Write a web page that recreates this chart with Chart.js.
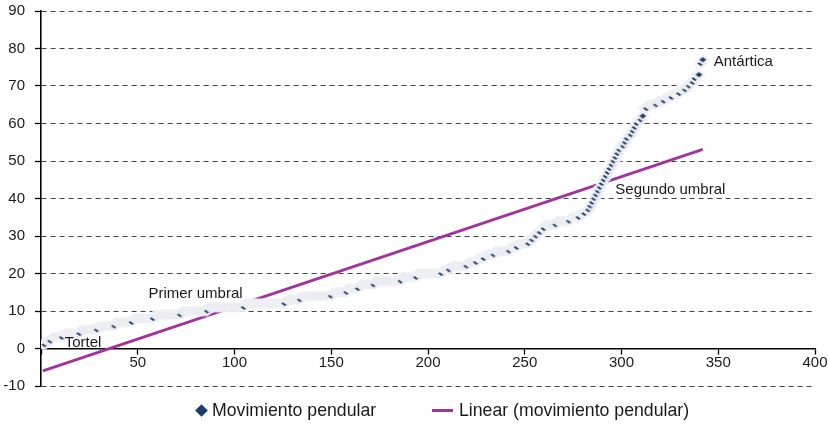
<!DOCTYPE html>
<html>
<head>
<meta charset="utf-8">
<script src="https://cdn.jsdelivr.net/npm/chart.js@4.4.0/dist/chart.umd.min.js"></script>
<style>
  body { margin: 0; background: #fff; }
  #wrap { position: relative; width: 828px; height: 427px; font-family: 'Liberation Sans', Arial, sans-serif; color: #1a1a1a; }
  #wrap canvas { position: absolute; left: 0; top: 0; }
  .lg { position: absolute; font-size: 17.7px; line-height: 20px; white-space: nowrap; }
  .lg-diamond { position: absolute; width: 9px; height: 9px; background: #1e3d6b; transform: rotate(45deg); }
  .lg-line { position: absolute; height: 3px; background: #a2339d; }
</style>
</head>
<body>
<div id="wrap">
  <canvas id="scatterChart" width="828" height="427"></canvas>
  <div class="lg-diamond" style="left:197px; top:406px;"></div>
  <div class="lg" style="left:212px; top:400px;">Movimiento pendular</div>
  <div class="lg-line" style="left:432px; top:409px; width:21px;"></div>
  <div class="lg" style="left:459px; top:400px;">Linear (movimiento pendular)</div>
</div>
<script>
// values, ranked from smallest to largest
const pendular = [
  1, 1, 2, 2, 2, 3, 3, 3, 3, 3, 3,
  4, 4, 4, 4, 4, 4, 4, 4, 4,
  5, 5, 5, 5, 5, 5, 5, 5, 5,
  6, 6, 6, 6, 6, 6, 6, 6, 6,
  7, 7, 7, 7, 7, 7, 7, 7, 7,
  8, 8, 8, 8, 8, 8, 8, 8, 8, 8, 8,
  9, 9, 9, 9, 9, 9, 9, 9, 9, 9, 9, 9, 9, 9,
  10, 10, 10, 10, 10, 10, 10, 10, 10, 10, 10, 10, 10, 10,
  11, 11, 11, 11, 11, 11, 11, 11, 11, 11, 11, 11, 11, 11, 11, 11, 11, 11, 11,
  12, 12, 12, 12, 12, 12, 12, 12, 12, 12, 12, 12, 12, 12, 12, 12, 12, 12, 12, 12, 12,
  13, 13, 13, 13, 13, 13, 13, 13,
  14, 14, 14, 14, 14, 14, 14, 14, 14, 14, 14, 14, 14, 14, 14, 14,
  15, 15, 15, 15, 15, 15, 15, 15,
  16, 16, 16, 16, 16, 16,
  17, 17, 17, 17, 17, 17, 17, 17,
  18, 18, 18, 18, 18, 18, 18, 18, 18, 18, 18, 18, 18, 18,
  19, 19, 19, 19, 19, 19, 19, 19,
  20, 20, 20, 20, 20, 20, 20, 20, 20, 20, 20, 20, 20,
  21, 21, 21, 21,
  22, 22, 22, 22, 22, 22, 22, 22, 22,
  23, 23, 23, 23, 23, 24, 24, 24, 24, 25, 25, 25, 25, 25,
  26, 26, 26, 26, 26, 26, 26, 26, 27, 27, 27, 27, 28, 28, 28, 28, 28, 28,
  29, 29, 30, 30, 31, 31, 32, 32,
  33, 33, 33, 33, 33, 33, 34, 34, 34, 34, 34, 34, 34,
  35, 35, 35, 35, 35, 36, 36, 36, 37, 37,
  38, 39, 40, 41, 42, 43, 44, 45, 46, 47, 48, 49, 50, 51, 52, 53,
  54, 54, 55, 56, 57, 57, 58, 59, 60, 61, 61, 62,
  64, 64, 65, 65, 65, 65, 65, 66, 66, 66, 66,
  67, 67, 67, 67, 68, 68, 68, 68, 69, 69, 69,
  70, 70, 71, 71, 72, 73, 73, 76, 77
];

// named places on the curve (rank of the point they belong to)
const placeNames = ['Tortel', 'Primer umbral', 'Segundo umbral', 'Antártica'];
const placeRanks = [5, 86, 288, 342];

const xTicks = [0, 50, 100, 150, 200, 250, 300, 350, 400];
const yTicks = [-10, 0, 10, 20, 30, 40, 50, 60, 70, 80, 90];

const navy = '#1e3d6b';
const purple = '#a2339d';

const points = pendular.map((v, i) => ({ x: i + 1, y: v }));

// least squares trendline, like the spreadsheet "Linear" trendline
const n = points.length;
let sx = 0, sy = 0, sxx = 0, sxy = 0;
points.forEach(p => { sx += p.x; sy += p.y; sxx += p.x * p.x; sxy += p.x * p.y; });
const slope = (n * sxy - sx * sy) / (n * sxx - sx * sx);
const intercept = (sy - slope * sx) / n;
const xFirst = points[0].x;
const xLast = points[n - 1].x;
const trend = [
  { x: xFirst, y: intercept + slope * xFirst },
  { x: xLast, y: intercept + slope * xLast }
];

// flattened diamond marker with a light edge
function diamondMarker(w, h) {
  const c = document.createElement('canvas');
  c.width = w + 3;
  c.height = h + 3;
  const g = c.getContext('2d');
  g.beginPath();
  g.moveTo(c.width / 2, 1.5);
  g.lineTo(w + 1.5, c.height / 2);
  g.lineTo(c.width / 2, h + 1.5);
  g.lineTo(1.5, c.height / 2);
  g.closePath();
  g.fillStyle = navy;
  g.fill();
  g.strokeStyle = '#eef0f3';
  g.lineWidth = 2.2;
  g.stroke();
  return c;
}

const placeLabels = {
  id: 'placeLabels',
  afterDatasetsDraw(chart) {
    const { ctx, scales } = chart;
    const offsets = [[14, 1.5], [-59, -17], [17, -1.5], [11, 2.5]];
    ctx.save();
    ctx.font = '15px "Liberation Sans", Arial, sans-serif';
    ctx.fillStyle = '#1a1a1a';
    ctx.textAlign = 'left';
    ctx.textBaseline = 'middle';
    placeNames.forEach((name, i) => {
      const r = placeRanks[i];
      const px = scales.x.getPixelForValue(r);
      const py = scales.y.getPixelForValue(pendular[r - 1]);
      ctx.fillText(name, px + offsets[i][0], py + offsets[i][1]);
    });
    ctx.restore();
  }
};

new Chart(document.getElementById('scatterChart'), {
  type: 'scatter',
  data: {
    datasets: [
      {
        label: 'Movimiento pendular',
        data: points,
        pointStyle: diamondMarker(11, 8),
        pointRadius: 5,
        order: 0
      },
      {
        type: 'line',
        label: 'Linear (movimiento pendular)',
        data: trend,
        borderColor: purple,
        borderWidth: 2.8,
        pointRadius: 0,
        fill: false,
        order: 1
      }
    ]
  },
  options: {
    responsive: false,
    animation: false,
    layout: { padding: { top: 11, left: 3, right: 13, bottom: 41 } },
    plugins: {
      legend: { display: false },
      tooltip: { enabled: false }
    },
    scales: {
      x: {
        type: 'linear',
        position: { y: 0 },
        min: xTicks[0],
        max: xTicks[xTicks.length - 1],
        afterBuildTicks: axis => { axis.ticks = xTicks.map(v => ({ value: v })); },
        afterFit: axis => { axis.paddingLeft = 0; axis.paddingRight = 0; },
        ticks: {
          callback: v => (v === 0 ? '' : v),
          color: '#1a1a1a',
          font: { family: '"Liberation Sans", Arial, sans-serif', size: 15 },
          padding: 0,
          maxRotation: 0
        },
        grid: { drawOnChartArea: false, drawTicks: true, tickLength: 5, tickColor: '#000', tickWidth: 1.3 },
        border: { color: '#000', width: 1.6 }
      },
      y: {
        min: yTicks[0],
        max: yTicks[yTicks.length - 1],
        afterBuildTicks: axis => { axis.ticks = yTicks.map(v => ({ value: v })); },
        afterFit: axis => { axis.width = 38; axis.paddingTop = 0; axis.paddingBottom = 0; },
        ticks: {
          color: '#1a1a1a',
          font: { family: '"Liberation Sans", Arial, sans-serif', size: 15 },
          padding: 10
        },
        grid: { color: '#444', lineWidth: 1, drawTicks: true, tickLength: 6, tickColor: '#000', tickWidth: 1.3 },
        border: { color: '#000', width: 1.6, dash: [5, 4] }
      }
    }
  },
  plugins: [placeLabels]
});
</script>
</body>
</html>
